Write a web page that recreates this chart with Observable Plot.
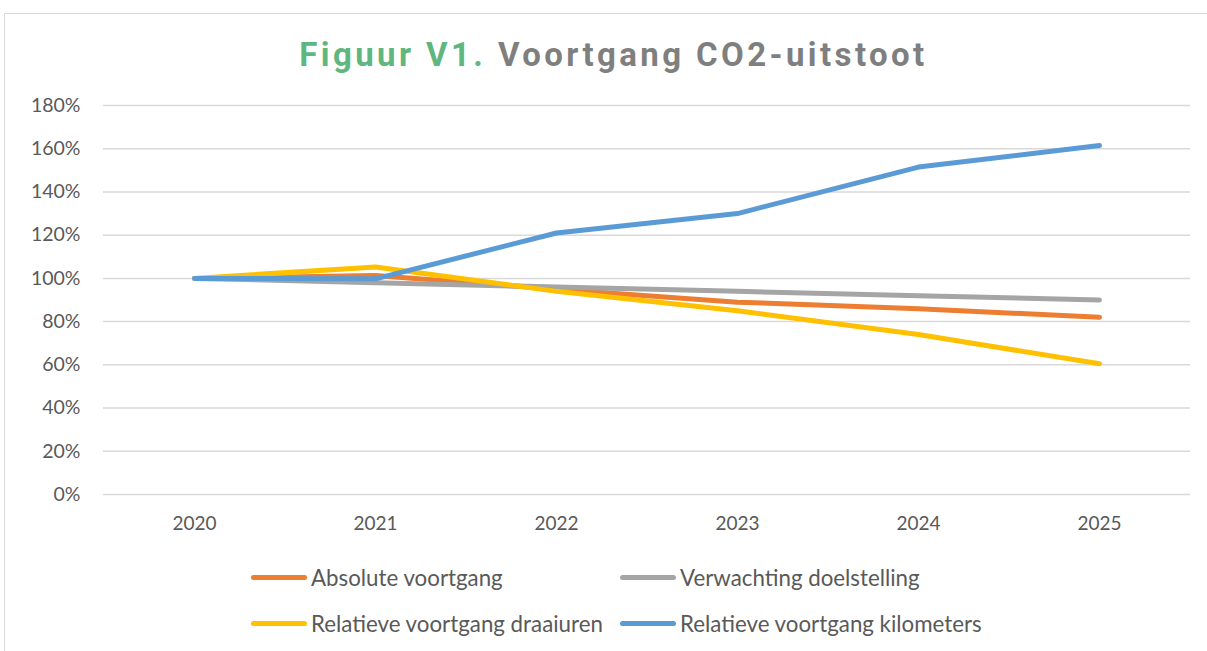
<!DOCTYPE html>
<html>
<head>
<meta charset="utf-8">
<script src="https://cdn.jsdelivr.net/npm/d3@7"></script>
<script src="https://cdn.jsdelivr.net/npm/@observablehq/plot@0.6"></script>
<style>
  html, body { margin: 0; padding: 0; background: #fff; }
  #wrap { position: relative; width: 1207px; height: 651px; overflow: hidden; font-family: Lato, "Open Sans", sans-serif; }
  #frame { position: absolute; left: 4px; top: 13px; width: 1230px; height: 700px; border: 1px solid #d9d9d9; box-sizing: border-box; }
  #title { position: absolute; left: 0; width: 1227px; top: 35px; text-align: center; font-family: Roboto, sans-serif; font-weight: bold; font-size: 33px; letter-spacing: 3.4px; color: #7f7f7f; white-space: nowrap; }
  #title .fig { color: #5fb67e; }
  #chart { position: absolute; left: 0; top: 0; }
  .leg { position: absolute; display: flex; align-items: center; font-size: 22.3px; color: #595959; white-space: nowrap; }
  .leg .sw { width: 56px; height: 5px; border-radius: 3px; margin-right: 4px; }
</style>
</head>
<body>
<div id="wrap">
  <div id="frame"></div>
  <div id="chart"></div>
  <div id="title"><span class="fig">Figuur V1.</span> Voortgang CO2-uitstoot</div>
  <div id="legend"></div>
</div>
<script>
const years = ["2020", "2021", "2022", "2023", "2024", "2025"];
const absoluteVoortgang = [1.00, 1.013, 0.95, 0.89, 0.86, 0.82];
const verwachtingDoelstelling = [1.00, 0.98, 0.96, 0.94, 0.92, 0.90];
const relatieveDraaiuren = [1.00, 1.053, 0.94, 0.85, 0.74, 0.605];
const relatieveKilometers = [1.00, 0.998, 1.21, 1.30, 1.515, 1.615];
const seriesNames = ["Absolute voortgang", "Verwachting doelstelling", "Relatieve voortgang draaiuren", "Relatieve voortgang kilometers"];
const seriesColors = ["#ED7D31", "#A5A5A5", "#FFC000", "#5B9BD5"];
const yTicks = [0, 0.2, 0.4, 0.6, 0.8, 1.0, 1.2, 1.4, 1.6, 1.8];

const seriesValues = [absoluteVoortgang, verwachtingDoelstelling, relatieveDraaiuren, relatieveKilometers];
const data = [];
seriesNames.forEach((name, si) => {
  years.forEach((yr, i) => data.push({series: name, year: yr, value: seriesValues[si][i]}));
});

const plot = Plot.plot({
  width: 1207,
  height: 540,
  marginLeft: 103,
  marginRight: 17,
  marginTop: 105,
  marginBottom: 46,
  style: { fontFamily: "Lato, 'Open Sans', sans-serif", fontSize: "19px", color: "#595959", background: "transparent", overflow: "visible" },
  x: { type: "point", domain: years, padding: 0.5, label: null },
  y: { domain: [0, 1.8], label: null },
  color: { domain: seriesNames, range: seriesColors },
  marks: [
    Plot.gridY(yTicks, { stroke: "#d9d9d9", strokeOpacity: 1, strokeWidth: 1.5 }),
    Plot.axisY(yTicks, { tickSize: 0, tickPadding: 23, tickFormat: d => Math.round(d * 100) + "%", fontSize: 19.5, fill: "#595959" }),
    Plot.axisX(years, { tickSize: 0, tickPadding: 22, fontSize: 19, fill: "#595959" }),
    Plot.line(data, { x: "year", y: "value", z: "series", stroke: "series", strokeWidth: 5, strokeLinecap: "round", strokeLinejoin: "round" })
  ]
});
document.getElementById("chart").appendChild(plot);

const legend = document.getElementById("legend");
const legPos = [[251, 578], [620, 578], [251, 624], [620, 624]];
seriesNames.forEach((name, i) => {
  const el = document.createElement("div");
  el.className = "leg";
  el.style.left = legPos[i][0] + "px";
  el.style.top = (legPos[i][1] - 14) + "px";
  el.innerHTML = `<div class="sw" style="background:${seriesColors[i]}"></div><span>${name}</span>`;
  legend.appendChild(el);
});
</script>
</body>
</html>
